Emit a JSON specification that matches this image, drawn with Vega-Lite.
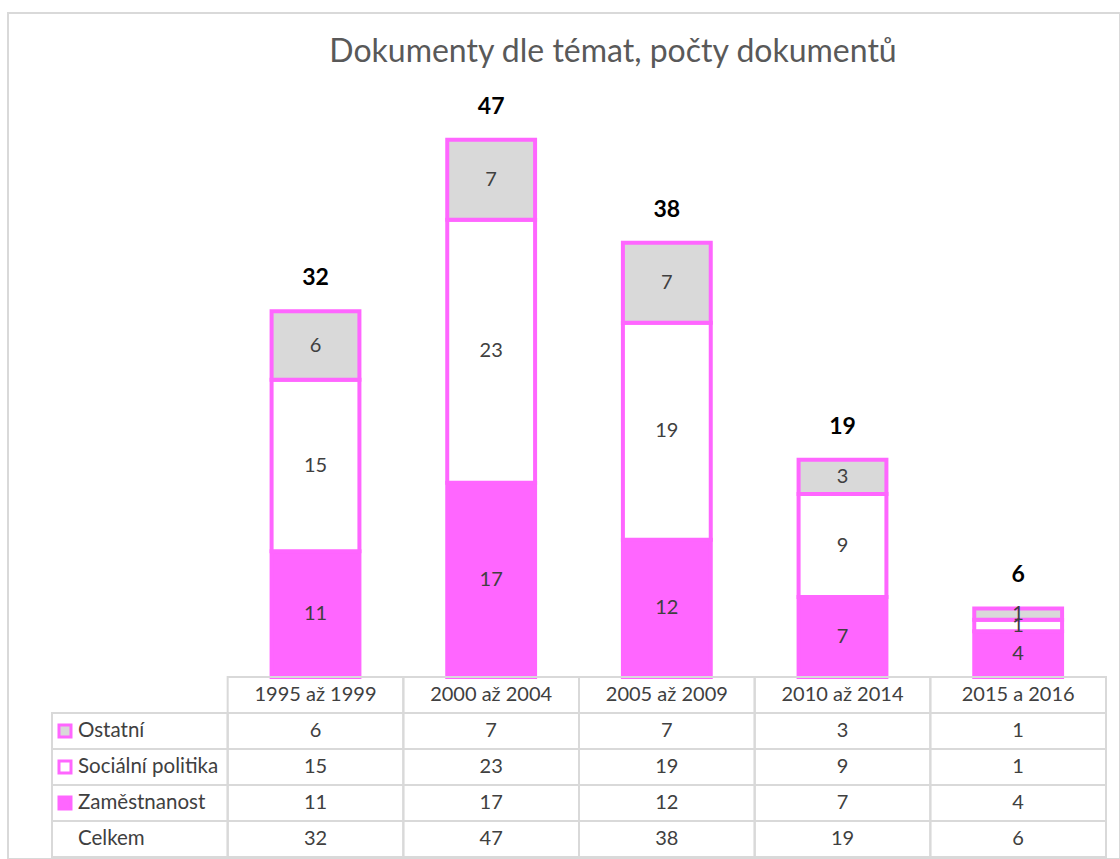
{
  "$schema": "https://vega.github.io/schema/vega-lite/v6.json",
  "width": 1112,
  "height": 846,
  "autosize": {"type": "none"},
  "padding": {"left": 8, "top": 13, "right": 0, "bottom": 0},
  "background": "white",
  "config": {
    "view": {"stroke": "#D9D9D9", "strokeWidth": 2},
    "font": "Lato",
    "text": {"font": "Lato"}
  },
  "title": {
    "text": "Dokumenty dle témat, počty dokumentů",
    "font": "Lato",
    "fontSize": 32,
    "fontWeight": "normal",
    "color": "#595959",
    "anchor": "middle",
    "dx": 49,
    "offset": -88,
    "baseline": "bottom"
  },
  "datasets": {
    "bars": [
      {"period": "1995 až 1999", "topic": "Zaměstnanost", "value": 11},
      {"period": "1995 až 1999", "topic": "Sociální politika", "value": 15},
      {"period": "1995 až 1999", "topic": "Ostatní", "value": 6},
      {"period": "2000 až 2004", "topic": "Zaměstnanost", "value": 17},
      {"period": "2000 až 2004", "topic": "Sociální politika", "value": 23},
      {"period": "2000 až 2004", "topic": "Ostatní", "value": 7},
      {"period": "2005 až 2009", "topic": "Zaměstnanost", "value": 12},
      {"period": "2005 až 2009", "topic": "Sociální politika", "value": 19},
      {"period": "2005 až 2009", "topic": "Ostatní", "value": 7},
      {"period": "2010 až 2014", "topic": "Zaměstnanost", "value": 7},
      {"period": "2010 až 2014", "topic": "Sociální politika", "value": 9},
      {"period": "2010 až 2014", "topic": "Ostatní", "value": 3},
      {"period": "2015 a 2016", "topic": "Zaměstnanost", "value": 4},
      {"period": "2015 a 2016", "topic": "Sociální politika", "value": 1},
      {"period": "2015 a 2016", "topic": "Ostatní", "value": 1}
    ],
    "totals": [
      {"period": "1995 až 1999", "total": 32},
      {"period": "2000 až 2004", "total": 47},
      {"period": "2005 až 2009", "total": 38},
      {"period": "2010 až 2014", "total": 19},
      {"period": "2015 a 2016", "total": 6}
    ],
    "rowlabels": [
      {"topic": "Ostatní"},
      {"topic": "Sociální politika"},
      {"topic": "Zaměstnanost"},
      {"topic": "Celkem"}
    ]
  },
  "resolve": {"scale": {"y": "independent", "x": "independent", "fill": "independent"}},
  "layer": [
    {
      "data": {"name": "bars"},
      "layer": [
        {
          "mark": {"type": "bar", "width": {"band": 0.5}, "stroke": "#FF66FF", "strokeWidth": 4},
          "encoding": {
            "x": {"field": "period", "type": "nominal", "axis": null,
                  "scale": {"domain": ["label", "1995 až 1999", "2000 až 2004", "2005 až 2009", "2010 až 2014", "2015 a 2016"], "range": [44, 1098], "paddingInner": 0, "paddingOuter": 0}},
            "y": {"field": "value", "type": "quantitative", "stack": "zero", "axis": null,
                  "scale": {"domain": [0, 50], "range": [664, 92.5], "nice": false}},
            "fill": {"field": "topic", "type": "nominal", "legend": null,
                     "scale": {"domain": ["Zaměstnanost", "Sociální politika", "Ostatní", "Celkem"], "range": ["#FF66FF", "#FFFFFF", "#D9D9D9", "#FFFFFF"]}},
            "order": {"field": "topic", "sort": "descending"}
          }
        },
        {
          "mark": {"type": "text", "fontSize": 20, "color": "#404040", "baseline": "middle"},
          "encoding": {
            "x": {"field": "period", "type": "nominal", "axis": null,
                  "scale": {"domain": ["label", "1995 až 1999", "2000 až 2004", "2005 až 2009", "2010 až 2014", "2015 a 2016"], "range": [44, 1098], "paddingInner": 0, "paddingOuter": 0}},
            "y": {"field": "value", "type": "quantitative", "stack": "zero", "bandPosition": 0.5, "axis": null,
                  "scale": {"domain": [0, 50], "range": [664, 92.5], "nice": false}},
            "detail": {"field": "topic", "type": "nominal"},
            "order": {"field": "topic", "sort": "descending"},
            "text": {"field": "value", "type": "quantitative"}
          }
        },
        {
          "data": {"name": "totals"},
          "mark": {"type": "text", "fontSize": 23, "fontWeight": "bold", "color": "#000000", "baseline": "middle", "dy": -33},
          "encoding": {
            "x": {"field": "period", "type": "nominal", "axis": null,
                  "scale": {"domain": ["label", "1995 až 1999", "2000 až 2004", "2005 až 2009", "2010 až 2014", "2015 a 2016"], "range": [44, 1098], "paddingInner": 0, "paddingOuter": 0}},
            "y": {"field": "total", "type": "quantitative", "axis": null,
                  "scale": {"domain": [0, 50], "range": [664, 92.5], "nice": false}},
            "text": {"field": "total", "type": "quantitative"}
          }
        }
      ]
    },
    {
      "layer": [
        {
          "data": {"name": "totals"},
          "mark": {"type": "rect", "fill": "transparent", "stroke": "#D9D9D9", "strokeWidth": 2},
          "encoding": {
            "x": {"field": "period", "type": "nominal", "axis": null,
                  "scale": {"domain": ["label", "1995 až 1999", "2000 až 2004", "2005 až 2009", "2010 až 2014", "2015 a 2016"], "range": [44, 1098], "paddingInner": 0, "paddingOuter": 0}},
            "y": {"datum": "header", "type": "nominal", "axis": null,
                  "scale": {"domain": ["header", "Ostatní", "Sociální politika", "Zaměstnanost", "Celkem"], "range": [664, 844], "paddingInner": 0, "paddingOuter": 0}}
          }
        },
        {
          "data": {"name": "totals"},
          "mark": {"type": "text", "fontSize": 20, "color": "#404040", "baseline": "middle"},
          "encoding": {
            "x": {"field": "period", "type": "nominal", "axis": null,
                  "scale": {"domain": ["label", "1995 až 1999", "2000 až 2004", "2005 až 2009", "2010 až 2014", "2015 a 2016"], "range": [44, 1098], "paddingInner": 0, "paddingOuter": 0}},
            "y": {"datum": "header", "type": "nominal", "axis": null,
                  "scale": {"domain": ["header", "Ostatní", "Sociální politika", "Zaměstnanost", "Celkem"], "range": [664, 844], "paddingInner": 0, "paddingOuter": 0}},
            "text": {"field": "period", "type": "nominal"}
          }
        },
        {
          "data": {"name": "bars"},
          "mark": {"type": "rect", "fill": "transparent", "stroke": "#D9D9D9", "strokeWidth": 2},
          "encoding": {
            "x": {"field": "period", "type": "nominal", "axis": null,
                  "scale": {"domain": ["label", "1995 až 1999", "2000 až 2004", "2005 až 2009", "2010 až 2014", "2015 a 2016"], "range": [44, 1098], "paddingInner": 0, "paddingOuter": 0}},
            "y": {"field": "topic", "type": "nominal", "axis": null,
                  "scale": {"domain": ["header", "Ostatní", "Sociální politika", "Zaměstnanost", "Celkem"], "range": [664, 844], "paddingInner": 0, "paddingOuter": 0}}
          }
        },
        {
          "data": {"name": "bars"},
          "mark": {"type": "text", "fontSize": 20, "color": "#404040", "baseline": "middle"},
          "encoding": {
            "x": {"field": "period", "type": "nominal", "axis": null,
                  "scale": {"domain": ["label", "1995 až 1999", "2000 až 2004", "2005 až 2009", "2010 až 2014", "2015 a 2016"], "range": [44, 1098], "paddingInner": 0, "paddingOuter": 0}},
            "y": {"field": "topic", "type": "nominal", "axis": null,
                  "scale": {"domain": ["header", "Ostatní", "Sociální politika", "Zaměstnanost", "Celkem"], "range": [664, 844], "paddingInner": 0, "paddingOuter": 0}},
            "text": {"field": "value", "type": "quantitative"}
          }
        },
        {
          "data": {"name": "totals"},
          "mark": {"type": "rect", "fill": "transparent", "stroke": "#D9D9D9", "strokeWidth": 2},
          "encoding": {
            "x": {"field": "period", "type": "nominal", "axis": null,
                  "scale": {"domain": ["label", "1995 až 1999", "2000 až 2004", "2005 až 2009", "2010 až 2014", "2015 a 2016"], "range": [44, 1098], "paddingInner": 0, "paddingOuter": 0}},
            "y": {"datum": "Celkem", "type": "nominal", "axis": null,
                  "scale": {"domain": ["header", "Ostatní", "Sociální politika", "Zaměstnanost", "Celkem"], "range": [664, 844], "paddingInner": 0, "paddingOuter": 0}}
          }
        },
        {
          "data": {"name": "totals"},
          "mark": {"type": "text", "fontSize": 20, "color": "#404040", "baseline": "middle"},
          "encoding": {
            "x": {"field": "period", "type": "nominal", "axis": null,
                  "scale": {"domain": ["label", "1995 až 1999", "2000 až 2004", "2005 až 2009", "2010 až 2014", "2015 a 2016"], "range": [44, 1098], "paddingInner": 0, "paddingOuter": 0}},
            "y": {"datum": "Celkem", "type": "nominal", "axis": null,
                  "scale": {"domain": ["header", "Ostatní", "Sociální politika", "Zaměstnanost", "Celkem"], "range": [664, 844], "paddingInner": 0, "paddingOuter": 0}},
            "text": {"field": "total", "type": "quantitative"}
          }
        },
        {
          "data": {"name": "rowlabels"},
          "mark": {"type": "rect", "fill": "transparent", "stroke": "#D9D9D9", "strokeWidth": 2},
          "encoding": {
            "x": {"datum": "label", "type": "nominal", "axis": null,
                  "scale": {"domain": ["label", "1995 až 1999", "2000 až 2004", "2005 až 2009", "2010 až 2014", "2015 a 2016"], "range": [44, 1098], "paddingInner": 0, "paddingOuter": 0}},
            "y": {"field": "topic", "type": "nominal", "axis": null,
                  "scale": {"domain": ["header", "Ostatní", "Sociální politika", "Zaměstnanost", "Celkem"], "range": [664, 844], "paddingInner": 0, "paddingOuter": 0}}
          }
        },
        {
          "data": {"name": "rowlabels"},
          "transform": [{"filter": "datum.topic !== 'Celkem'"}],
          "mark": {"type": "point", "shape": "square", "filled": true, "size": 144, "stroke": "#FF66FF", "strokeWidth": 3, "opacity": 1},
          "encoding": {
            "x": {"datum": "label", "type": "nominal", "bandPosition": 0.074, "axis": null,
                  "scale": {"domain": ["label", "1995 až 1999", "2000 až 2004", "2005 až 2009", "2010 až 2014", "2015 a 2016"], "range": [44, 1098], "paddingInner": 0, "paddingOuter": 0}},
            "y": {"field": "topic", "type": "nominal", "axis": null,
                  "scale": {"domain": ["header", "Ostatní", "Sociální politika", "Zaměstnanost", "Celkem"], "range": [664, 844], "paddingInner": 0, "paddingOuter": 0}},
            "fill": {"field": "topic", "type": "nominal", "legend": null,
                     "scale": {"domain": ["Zaměstnanost", "Sociální politika", "Ostatní", "Celkem"], "range": ["#FF66FF", "#FFFFFF", "#D9D9D9", "#FFFFFF"]}}
          }
        },
        {
          "data": {"name": "rowlabels"},
          "mark": {"type": "text", "fontSize": 20.5, "color": "#404040", "baseline": "middle", "align": "left", "dx": 26},
          "encoding": {
            "x": {"datum": "label", "type": "nominal", "bandPosition": 0, "axis": null,
                  "scale": {"domain": ["label", "1995 až 1999", "2000 až 2004", "2005 až 2009", "2010 až 2014", "2015 a 2016"], "range": [44, 1098], "paddingInner": 0, "paddingOuter": 0}},
            "y": {"field": "topic", "type": "nominal", "axis": null,
                  "scale": {"domain": ["header", "Ostatní", "Sociální politika", "Zaměstnanost", "Celkem"], "range": [664, 844], "paddingInner": 0, "paddingOuter": 0}},
            "text": {"field": "topic", "type": "nominal"}
          }
        }
      ]
    }
  ]
}
